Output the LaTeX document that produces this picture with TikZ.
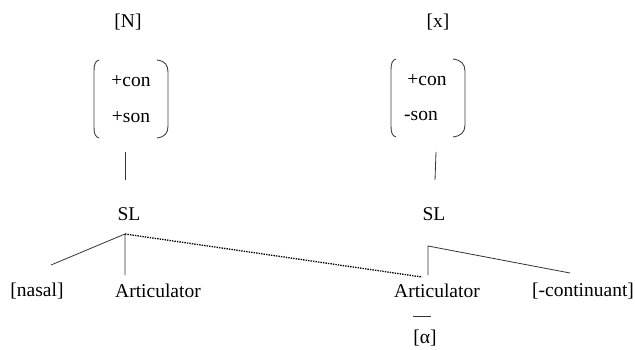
\documentclass[tikz,border=0pt]{standalone}
\usepackage{fontspec}
\setmainfont{Liberation Serif}
\begin{document}
\begin{tikzpicture}[x=1pt,y=-1pt,
  lbl/.style={font=\fontsize{19.5}{23}\selectfont, inner sep=0pt},
  edge/.style={line width=0.8pt, draw=black!80},
  dotedge/.style={line width=1.3pt, draw=black, dash pattern=on 1.4pt off 1.1pt},
  paren/.style={line width=0.9pt, draw=black!75}]
\useasboundingbox[fill=white] (0,0) rectangle (635,350);
% left column
\node[lbl] (segN) at (128,22) {[N]};
\node[lbl] (conL) at (131,81) {+con};
\node[lbl] (sonL) at (131,117) {+son};
\node[lbl] (slL) at (129,214) {SL};
\node[lbl] (nasal) at (37,291) {[nasal]};
\node[lbl] (artL) at (158,291) {Articulator};
% right column
\node[lbl] (segX) at (438,22) {[x]};
\node[lbl] (conR) at (427,80) {+con};
\node[lbl] (sonR) at (421,116) {-son};
\node[lbl] (slR) at (434,214) {SL};
\node[lbl] (artR) at (437,291) {Articulator};
\node[lbl] (cont) at (583,291) {[-continuant]};
\node[lbl] (alpha) at (425,338) {[α]};
% brackets
\draw[paren] (99,60) .. controls (95,61) and (94,65) .. (94,71) -- (94,127) .. controls (94,133) and (95,137) .. (99,138);
\draw[paren] (157,60) .. controls (165,61) and (168,65) .. (168,72) -- (168,126) .. controls (168,133) and (165,137) .. (157,138);
\draw[paren] (396,59) .. controls (392,60) and (391,64) .. (391,70) -- (391,126) .. controls (391,132) and (392,136) .. (396,137);
\draw[paren] (453,59) .. controls (461,60) and (465,64) .. (465,71) -- (465,125) .. controls (465,132) and (461,136) .. (453,137);
% coordinates
\coordinate (vLtop) at (125,152);
\coordinate (vLbot) at (125,180);
\coordinate (jL) at (125,234);
\coordinate (nasalEnd) at (51,265);
\coordinate (artLEnd) at (125,275);
\coordinate (dotEnd) at (422,277);
\coordinate (vRtop) at (436,152);
\coordinate (vRbot) at (435,180);
\coordinate (jR) at (428,246);
\coordinate (artREnd) at (428,275);
\coordinate (contEnd) at (570,273);
\coordinate (dashA) at (413,316);
\coordinate (dashB) at (431,316);
% connectors
\draw[edge] (vLtop) -- (vLbot);
\draw[edge] (nasalEnd) -- (jL) -- (artLEnd);
\draw[dotedge] (jL) -- (dotEnd);
\draw[edge] (vRtop) -- (vRbot);
\draw[edge] (artREnd) -- (jR) -- (contEnd);
\draw[edge, line width=1pt] (dashA) -- (dashB);
\end{tikzpicture}
\end{document}
